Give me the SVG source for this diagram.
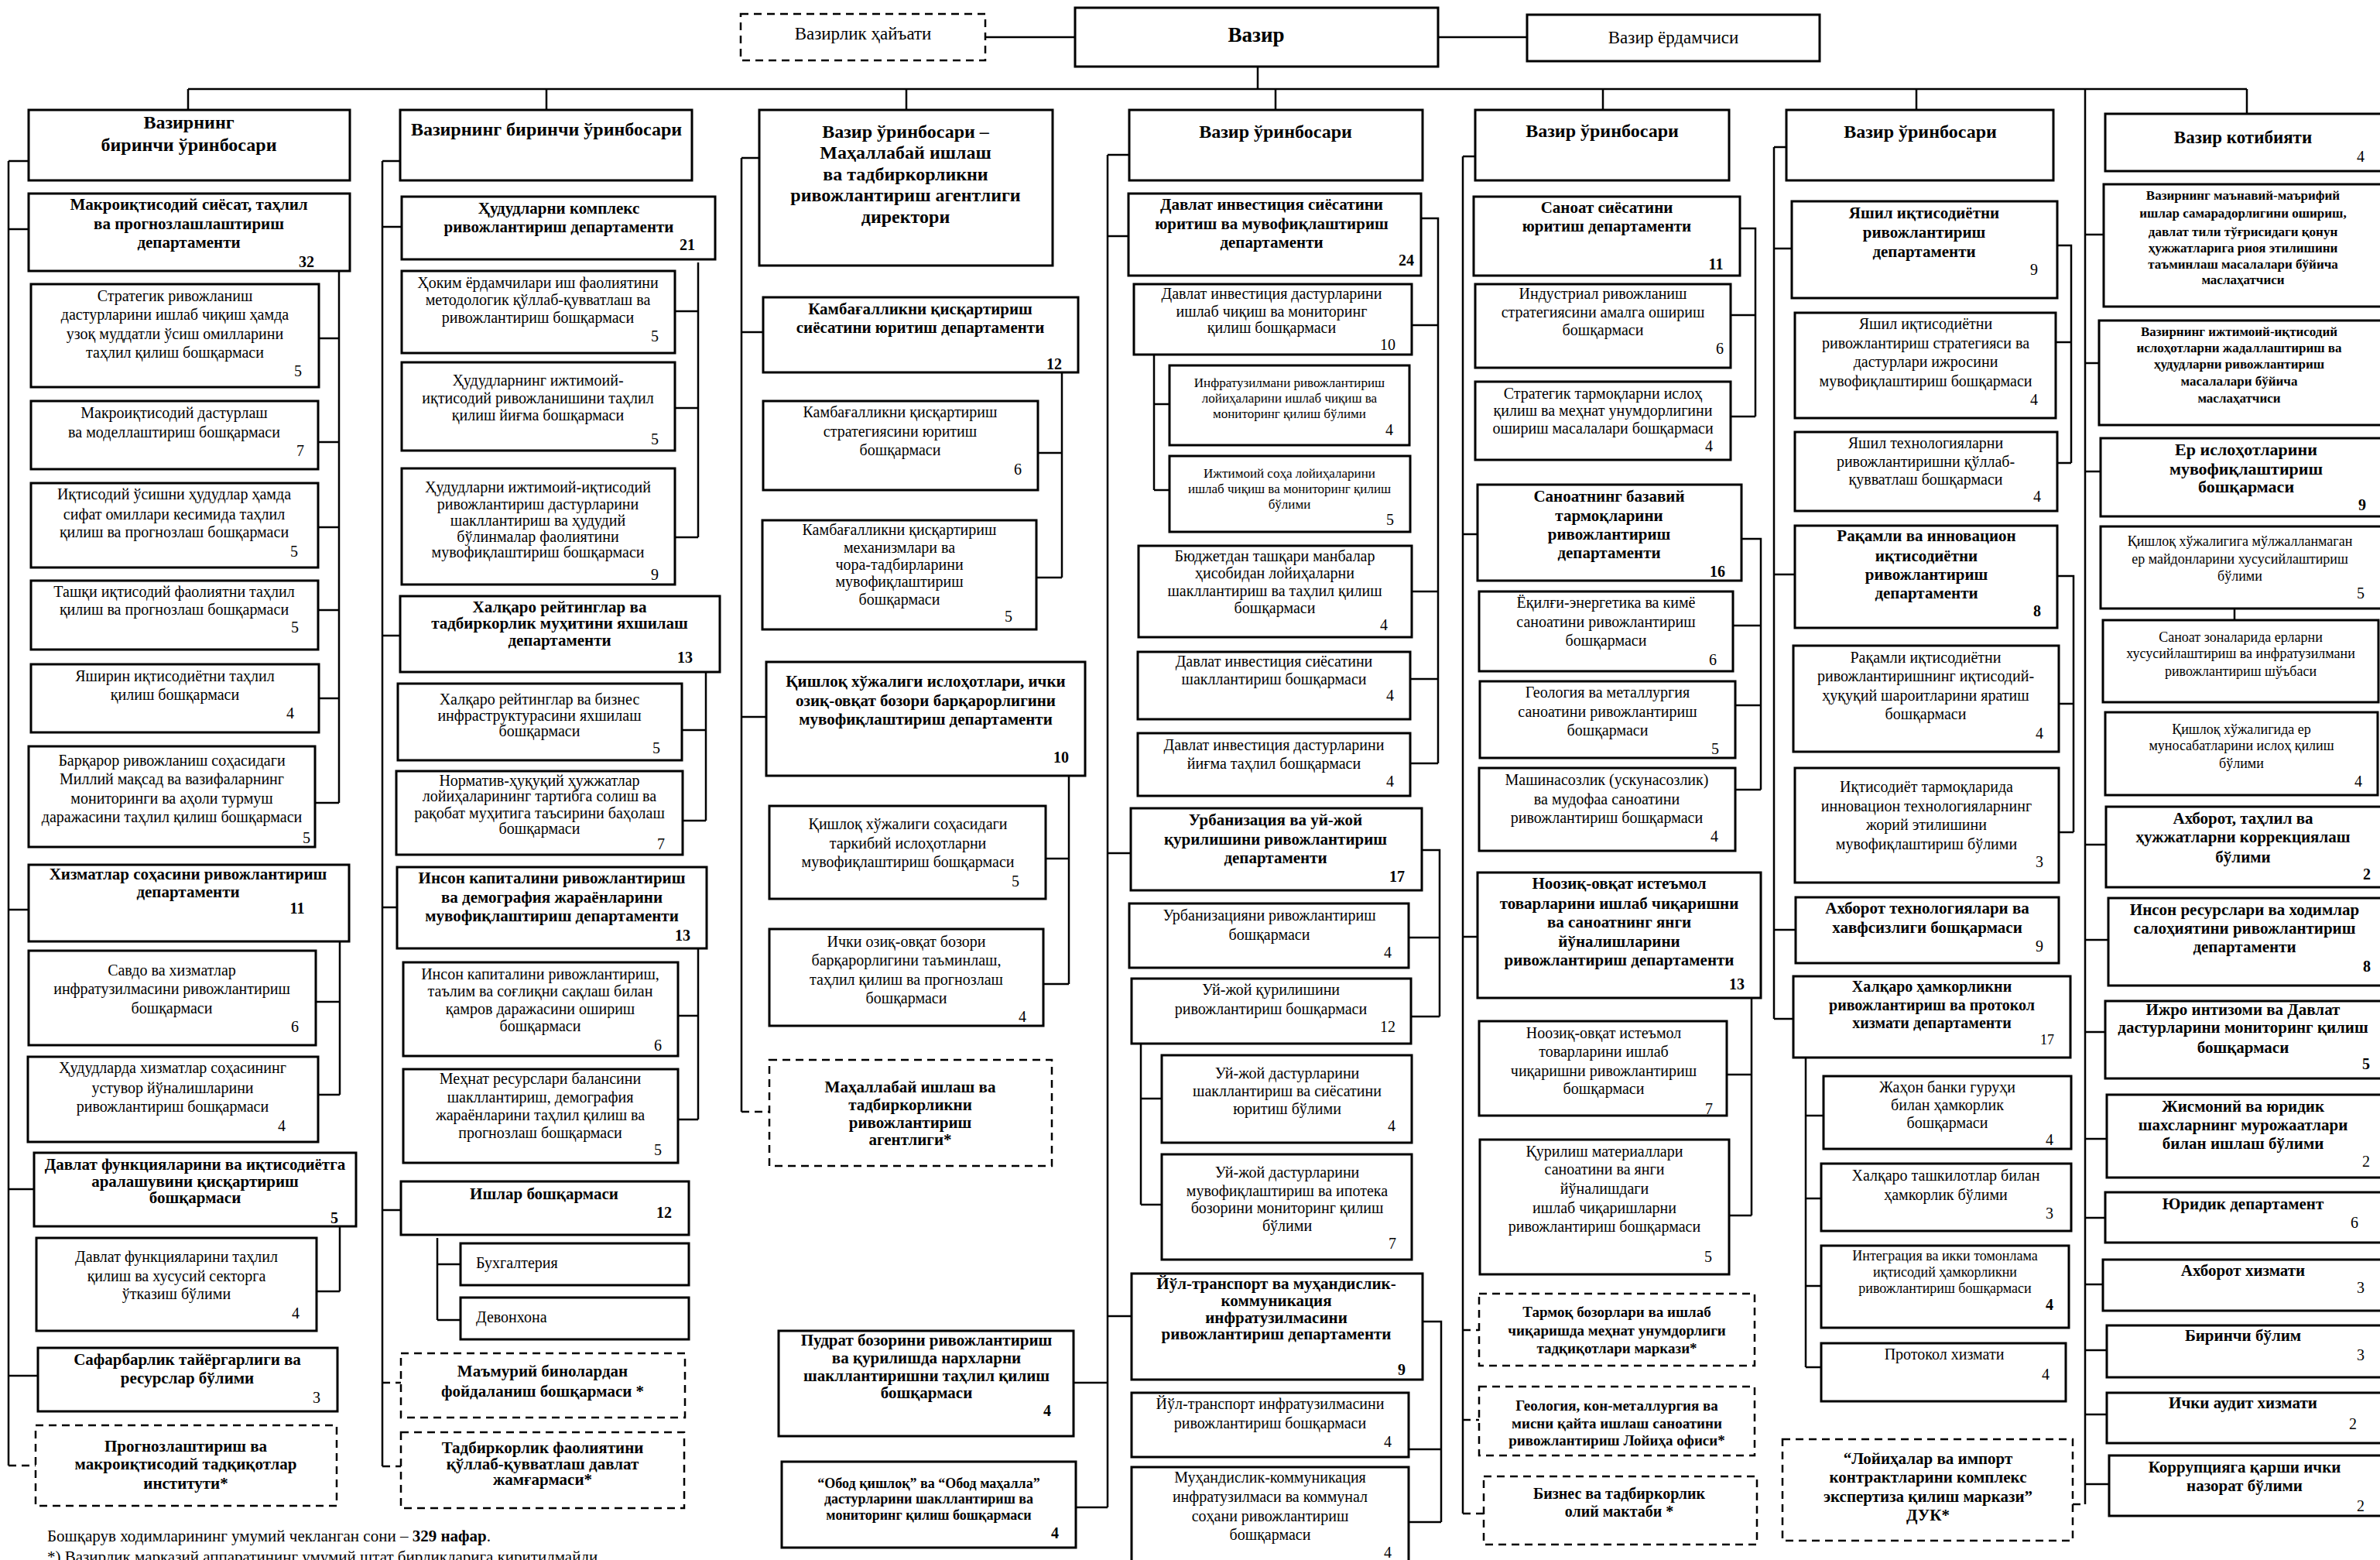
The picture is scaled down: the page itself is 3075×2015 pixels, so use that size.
<svg xmlns="http://www.w3.org/2000/svg" width="3075" height="2015" viewBox="0 0 3075 2015">
<style>
.bx{fill:#fff;stroke:#000;stroke-width:3}
.dx{fill:#fff;stroke:#000;stroke-width:2.5;stroke-dasharray:10 7}
.c{fill:none;stroke:#000;stroke-width:2.5}
.cd{fill:none;stroke:#000;stroke-width:2.5;stroke-dasharray:10 7}
text{font-family:"Liberation Serif","Times New Roman","DejaVu Serif",serif;fill:#000}
.r{font-size:20px;text-anchor:middle}
.b{font-size:21px;font-weight:bold;text-anchor:middle}
.h{font-size:24px;font-weight:bold;text-anchor:middle}
.s{font-size:17px;text-anchor:middle}
.sb{font-size:18px;font-weight:bold;text-anchor:middle}
.n{font-size:20px;text-anchor:middle}
.nb{font-size:20px;font-weight:bold;text-anchor:middle}
.l{font-size:20px;text-anchor:start}
</style>
<rect width="3075" height="2015" fill="#fff"/>
<g id="connectors">
<path class="c" d="M1273 48H1389M1858 48H1973M1625 86V115M243 115H2903M243 115V142M706 115V142M1171 115V142M1648 115V142M2071 115V142M2476 115V192M2903 115V147"/>
<path class="c" d="M11 208V1893M11 208H37M11 296H37M11 1175H37M11 1536H44M11 1777H49"/>
<path class="cd" d="M11 1893H46"/>
<path class="c" d="M438 350V1037M412 437H438M411 571H438M411 681H438M411 788H438M412 902H438M407 1037H438"/>
<path class="c" d="M439 1216V1414M408 1294H439M411 1414H439M439 1584V1668M409 1668H439"/>
<path class="c" d="M494 208V1894M494 208H517M494 293H519M494 821H517M494 1172H513M494 1563H518"/>
<path class="cd" d="M494 1786H518M494 1894H518"/>
<path class="c" d="M902 339V694M872 402H902M872 527H902M872 694H902"/>
<path class="c" d="M912 868V1060M881 943H912M882 1060H912"/>
<path class="c" d="M902 1225V1446M876 1312H902M876 1446H902"/>
<path class="c" d="M565 1599V1705M565 1633H595M565 1705H595"/>
<path class="c" d="M958 204V1436M958 204H981M958 429H986M958 926H990"/>
<path class="cd" d="M958 1436H994"/>
<path class="c" d="M1372 481V746M1341 585H1372M1339 746H1372M1381 1002V1271M1351 1109H1381M1348 1271H1381"/>
<path class="c" d="M1431 200V1947M1431 200H1459M1431 305H1458M1431 1102H1461M1431 1700H1462M1387 1786H1431M1390 1947H1431"/>
<path class="c" d="M1836 282H1858V986M1824 420H1858M1824 764H1858M1822 877H1858M1822 986H1858"/>
<path class="c" d="M1491 458V633M1491 522H1511M1491 633H1511"/>
<path class="c" d="M1837 1098H1860V1313M1820 1211H1860M1823 1313H1860"/>
<path class="c" d="M1474 1348V1556M1474 1419H1501M1474 1556H1501"/>
<path class="c" d="M1838 1707H1862V1966M1820 1872H1862M1820 1966H1862"/>
<path class="c" d="M1890 202V1955M1890 202H1906M1890 690H1909M1890 1210H1909"/>
<path class="cd" d="M1890 1718H1911M1890 1834H1911M1890 1955H1917"/>
<path class="c" d="M2248 295H2268V538M2236 407H2268M2236 538H2268"/>
<path class="c" d="M2250 696H2275V1020M2239 808H2275M2242 911H2275M2242 1020H2275"/>
<path class="c" d="M2263 1289V1570M2231 1388H2263M2234 1570H2263M2252 1235H2267"/>
<path class="c" d="M2292 190V1316M2292 190H2308M2292 321H2315M2292 742H2319M2292 1201H2320M2292 1316H2317"/>
<path class="c" d="M2653 317H2676V598M2656 442H2676M2658 598H2676"/>
<path class="c" d="M2658 744H2679V1075M2660 909H2679M2660 1075H2679"/>
<path class="c" d="M2333 1366V1766M2333 1441H2356M2333 1548H2353M2333 1661H2353M2333 1766H2353"/>
<path class="cd" d="M2678 1943H2694"/>
<path class="c" d="M2694 115V1943M2694 303H2718M2694 469H2712M2694 609H2714M2694 1091H2721M2694 1214H2724M2694 1333H2720M2694 1471H2722M2694 1573H2720M2694 1659H2717M2694 1744H2722M2694 1827H2722M2694 1917H2725M2887 786V801"/>
</g>

<g id="hayat"><rect class="dx" x="957" y="18" width="316" height="60"/><text class="r" style="font-size:23px" x="1115" y="51">Вазирлик ҳайъати</text></g>
<g id="vazir"><rect class="bx" x="1389" y="10" width="469" height="76"/><text class="h" style="font-size:27px" x="1623" y="54">Вазир</text></g>
<g id="yordamchi"><rect class="bx" x="1973" y="19" width="378" height="60"/><text class="r" style="font-size:23px" x="2162" y="56">Вазир ёрдамчиси</text></g>

<!-- Column 1 -->
<g id="c1-head"><rect class="bx" x="37" y="142" width="415" height="91"/><text class="h"><tspan x="244" y="166">Вазирнинг</tspan><tspan x="244" y="195">биринчи ўринбосари</tspan></text></g>
<g id="c1-d1"><rect class="bx" x="37" y="250" width="415" height="100"/><text class="b"><tspan x="244" y="271">Макроиқтисодий сиёсат, таҳлил</tspan><tspan x="244" y="296">ва прогнозлашлаштириш</tspan><tspan x="244" y="320">департаменти</tspan></text><text class="nb" x="396" y="345">32</text></g>
<g id="c1-s1"><rect class="bx" x="40" y="367" width="372" height="133"/><text class="r"><tspan x="226" y="389">Стратегик ривожланиш</tspan><tspan x="226" y="413">дастурларини ишлаб чиқиш ҳамда</tspan><tspan x="226" y="438">узоқ муддатли ўсиш омилларини</tspan><tspan x="226" y="462">таҳлил қилиш бошқармаси</tspan></text><text class="n" x="385" y="486">5</text></g>
<g id="c1-s2"><rect class="bx" x="40" y="518" width="371" height="88"/><text class="r"><tspan x="225" y="540">Макроиқтисодий дастурлаш</tspan><tspan x="225" y="565">ва моделлаштириш бошқармаси</tspan></text><text class="n" x="388" y="589">7</text></g>
<g id="c1-s3"><rect class="bx" x="40" y="624" width="371" height="109"/><text class="r"><tspan x="225" y="645">Иқтисодий ўсишни ҳудудлар ҳамда</tspan><tspan x="225" y="671">сифат омиллари кесимида таҳлил</tspan><tspan x="225" y="694">қилиш ва прогнозлаш бошқармаси</tspan></text><text class="n" x="380" y="719">5</text></g>
<g id="c1-s4"><rect class="bx" x="40" y="750" width="371" height="89"/><text class="r"><tspan x="225" y="771">Ташқи иқтисодий фаолиятни таҳлил</tspan><tspan x="225" y="794">қилиш ва прогнозлаш бошқармаси</tspan></text><text class="n" x="381" y="817">5</text></g>
<g id="c1-s5"><rect class="bx" x="40" y="858" width="372" height="88"/><text class="r"><tspan x="226" y="880">Яширин иқтисодиётни таҳлил</tspan><tspan x="226" y="904">қилиш бошқармаси</tspan></text><text class="n" x="375" y="928">4</text></g>
<g id="c1-s6"><rect class="bx" x="37" y="964" width="370" height="130"/><text class="r"><tspan x="222" y="989">Барқарор ривожланиш соҳасидаги</tspan><tspan x="222" y="1013">Миллий мақсад ва вазифаларнинг</tspan><tspan x="222" y="1038">мониторинги ва аҳоли турмуш</tspan><tspan x="222" y="1062">даражасини таҳлил қилиш бошқармаси</tspan></text><text class="n" x="396" y="1089">5</text></g>
<g id="c1-d2"><rect class="bx" x="37" y="1117" width="414" height="99"/><text class="b"><tspan x="243" y="1136">Хизматлар соҳасини ривожлантириш</tspan><tspan x="243" y="1159">департаменти</tspan></text><text class="nb" x="384" y="1180">11</text></g>
<g id="c1-s7"><rect class="bx" x="37" y="1228" width="371" height="122"/><text class="r"><tspan x="222" y="1260">Савдо ва хизматлар</tspan><tspan x="222" y="1284">инфратузилмасини ривожлантириш</tspan><tspan x="222" y="1309">бошқармаси</tspan></text><text class="n" x="381" y="1333">6</text></g>
<g id="c1-s8"><rect class="bx" x="36" y="1365" width="375" height="110"/><text class="r"><tspan x="223" y="1386">Ҳудудларда хизматлар соҳасининг</tspan><tspan x="223" y="1412">устувор йўналишларини</tspan><tspan x="223" y="1436">ривожлантириш бошқармаси</tspan></text><text class="n" x="364" y="1461">4</text></g>
<g id="c1-d3"><rect class="bx" x="44" y="1489" width="416" height="95"/><text class="b"><tspan x="252" y="1511">Давлат функцияларини ва иқтисодиётга</tspan><tspan x="252" y="1533">аралашувини қисқартириш</tspan><tspan x="252" y="1554">бошқармаси</tspan></text><text class="nb" x="432" y="1580">5</text></g>
<g id="c1-s9"><rect class="bx" x="47" y="1599" width="362" height="120"/><text class="r"><tspan x="228" y="1630">Давлат функцияларини таҳлил</tspan><tspan x="228" y="1655">қилиш ва хусусий секторга</tspan><tspan x="228" y="1678">ўтказиш бўлими</tspan></text><text class="n" x="382" y="1703">4</text></g>
<g id="c1-d4"><rect class="bx" x="49" y="1741" width="387" height="82"/><text class="b"><tspan x="242" y="1763">Сафарбарлик тайёргарлиги ва</tspan><tspan x="242" y="1787">ресурслар бўлими</tspan></text><text class="n" x="409" y="1812">3</text></g>
<g id="c1-x1"><rect class="dx" x="46" y="1841" width="389" height="104"/><text class="b"><tspan x="240" y="1875">Прогнозлаштириш ва</tspan><tspan x="240" y="1898">макроиқтисодий тадқиқотлар</tspan><tspan x="240" y="1923">институти*</tspan></text></g>

<!-- Column 2 -->
<g id="c2-head"><rect class="bx" x="517" y="142" width="377" height="91"/><text class="h" x="706" y="175">Вазирнинг биринчи ўринбосари</text></g>
<g id="c2-d1"><rect class="bx" x="519" y="254" width="405" height="81"/><text class="b"><tspan x="722" y="276">Ҳудудларни комплекс</tspan><tspan x="722" y="300">ривожлантириш департаменти</tspan></text><text class="nb" x="888" y="323">21</text></g>
<g id="c2-s1"><rect class="bx" x="519" y="350" width="353" height="106"/><text class="r"><tspan x="695" y="372">Ҳоким ёрдамчилари иш фаолиятини</tspan><tspan x="695" y="394">методологик қўллаб-қувватлаш ва</tspan><tspan x="695" y="417">ривожлантириш  бошқармаси</tspan></text><text class="n" x="846" y="441">5</text></g>
<g id="c2-s2"><rect class="bx" x="519" y="468" width="353" height="114"/><text class="r"><tspan x="695" y="498">Ҳудудларнинг ижтимоий-</tspan><tspan x="695" y="521">иқтисодий ривожланишини таҳлил</tspan><tspan x="695" y="543">қилиш йиғма бошқармаси</tspan></text><text class="n" x="846" y="574">5</text></g>
<g id="c2-s3"><rect class="bx" x="519" y="605" width="353" height="150"/><text class="r"><tspan x="695" y="636">Ҳудудларни ижтимоий-иқтисодий</tspan><tspan x="695" y="658">ривожлантириш дастурларини</tspan><tspan x="695" y="679">шакллантириш ва ҳудудий</tspan><tspan x="695" y="700">бўлинмалар фаолиятини</tspan><tspan x="695" y="720">мувофиқлаштириш бошқармаси</tspan></text><text class="n" x="846" y="749">9</text></g>
<g id="c2-d2"><rect class="bx" x="517" y="770" width="413" height="98"/><text class="b"><tspan x="723" y="791">Халқаро рейтинглар ва</tspan><tspan x="723" y="812">тадбиркорлик муҳитини яхшилаш</tspan><tspan x="723" y="834">департаменти</tspan></text><text class="nb" x="885" y="856">13</text></g>
<g id="c2-s4"><rect class="bx" x="514" y="883" width="367" height="99"/><text class="r"><tspan x="697" y="910">Халқаро рейтинглар ва бизнес</tspan><tspan x="697" y="931">инфраструктурасини яхшилаш</tspan><tspan x="697" y="951">бошқармаси</tspan></text><text class="n" x="848" y="973">5</text></g>
<g id="c2-s5"><rect class="bx" x="512" y="996" width="370" height="108"/><text class="r"><tspan x="697" y="1015">Норматив-ҳуқуқий ҳужжатлар</tspan><tspan x="697" y="1035">лойиҳаларининг тартибга солиш ва</tspan><tspan x="697" y="1057">рақобат муҳитига таъсирини баҳолаш</tspan><tspan x="697" y="1077">бошқармаси</tspan></text><text class="n" x="854" y="1097">7</text></g>
<g id="c2-d3"><rect class="bx" x="513" y="1120" width="400" height="105"/><text class="b"><tspan x="713" y="1141">Инсон капиталини ривожлантириш</tspan><tspan x="713" y="1166">ва демография жараёнларини</tspan><tspan x="713" y="1190">мувофиқлаштириш  департаменти</tspan></text><text class="nb" x="882" y="1215">13</text></g>
<g id="c2-s6"><rect class="bx" x="521" y="1243" width="355" height="121"/><text class="r"><tspan x="698" y="1265">Инсон капиталини ривожлантириш,</tspan><tspan x="698" y="1287">таълим ва соғлиқни сақлаш билан</tspan><tspan x="698" y="1310">қамров даражасини ошириш</tspan><tspan x="698" y="1332">бошқармаси</tspan></text><text class="n" x="850" y="1357">6</text></g>
<g id="c2-s7"><rect class="bx" x="521" y="1381" width="355" height="121"/><text class="r"><tspan x="698" y="1400">Меҳнат ресурслари балансини</tspan><tspan x="698" y="1424">шакллантириш, демография</tspan><tspan x="698" y="1447">жараёнларини таҳлил қилиш ва</tspan><tspan x="698" y="1470">прогнозлаш бошқармаси</tspan></text><text class="n" x="850" y="1492">5</text></g>
<g id="c2-d4"><rect class="bx" x="518" y="1526" width="372" height="69"/><text class="b" x="703" y="1549">Ишлар бошқармаси</text><text class="nb" x="858" y="1573">12</text></g>
<g id="c2-s8"><rect class="bx" x="595" y="1606" width="295" height="54"/><text class="l" x="615" y="1638">Бухгалтерия</text></g>
<g id="c2-s9"><rect class="bx" x="595" y="1676" width="295" height="54"/><text class="l" x="615" y="1708">Девонхона</text></g>
<g id="c2-x1"><rect class="dx" x="518" y="1748" width="367" height="83"/><text class="b"><tspan x="701" y="1778">Маъмурий бинолардан</tspan><tspan x="701" y="1804">фойдаланиш бошқармаси *</tspan></text></g>
<g id="c2-x2"><rect class="dx" x="518" y="1850" width="366" height="98"/><text class="b"><tspan x="701" y="1877">Тадбиркорлик фаолиятини</tspan><tspan x="701" y="1898">қўллаб-қувватлаш давлат</tspan><tspan x="701" y="1918">жамғармаси*</tspan></text></g>

<!-- Column 3 -->
<g id="c3-head"><rect class="bx" x="981" y="142" width="379" height="201"/><text class="h"><tspan x="1170" y="178">Вазир ўринбосари –</tspan><tspan x="1170" y="205">Маҳаллабай ишлаш</tspan><tspan x="1170" y="233">ва тадбиркорликни</tspan><tspan x="1170" y="260">ривожлантириш агентлиги</tspan><tspan x="1170" y="288">директори</tspan></text></g>
<g id="c3-d1"><rect class="bx" x="986" y="384" width="407" height="97"/><text class="b"><tspan x="1189" y="406">Камбағалликни қисқартириш</tspan><tspan x="1189" y="430">сиёсатини юритиш департаменти</tspan></text><text class="nb" x="1362" y="477">12</text></g>
<g id="c3-s1"><rect class="bx" x="986" y="518" width="355" height="115"/><text class="r"><tspan x="1163" y="539">Камбағалликни қисқартириш</tspan><tspan x="1163" y="564">стратегиясини юритиш</tspan><tspan x="1163" y="588">бошқармаси</tspan></text><text class="n" x="1315" y="613">6</text></g>
<g id="c3-s2"><rect class="bx" x="985" y="672" width="354" height="141"/><text class="r"><tspan x="1162" y="691">Камбағалликни қисқартириш</tspan><tspan x="1162" y="714">механизмлари ва</tspan><tspan x="1162" y="736">чора-тадбирларини</tspan><tspan x="1162" y="758">мувофиқлаштириш</tspan><tspan x="1162" y="781">бошқармаси</tspan></text><text class="n" x="1303" y="803">5</text></g>
<g id="c3-d2"><rect class="bx" x="990" y="855" width="412" height="147"/><text class="b"><tspan x="1196" y="887">Қишлоқ хўжалиги ислоҳотлари, ички</tspan><tspan x="1196" y="912">озиқ-овқат бозори барқарорлигини</tspan><tspan x="1196" y="936">мувофиқлаштириш департаменти</tspan></text><text class="nb" x="1371" y="985">10</text></g>
<g id="c3-s3"><rect class="bx" x="994" y="1041" width="357" height="120"/><text class="r"><tspan x="1173" y="1071">Қишлоқ хўжалиги соҳасидаги</tspan><tspan x="1173" y="1096">таркибий ислоҳотларни</tspan><tspan x="1173" y="1120">мувофиқлаштириш бошқармаси</tspan></text><text class="n" x="1312" y="1145">5</text></g>
<g id="c3-s4"><rect class="bx" x="994" y="1200" width="354" height="125"/><text class="r"><tspan x="1171" y="1223">Ички озиқ-овқат бозори</tspan><tspan x="1171" y="1247">барқарорлигини таъминлаш,</tspan><tspan x="1171" y="1272">таҳлил қилиш ва прогнозлаш</tspan><tspan x="1171" y="1296">бошқармаси</tspan></text><text class="n" x="1321" y="1320">4</text></g>
<g id="c3-x1"><rect class="dx" x="994" y="1369" width="365" height="137"/><text class="b"><tspan x="1176" y="1411">Маҳаллабай ишлаш ва</tspan><tspan x="1176" y="1434">тадбиркорликни</tspan><tspan x="1176" y="1457">ривожлантириш</tspan><tspan x="1176" y="1479">агентлиги*</tspan></text></g>
<g id="c3-d3"><rect class="bx" x="1006" y="1719" width="381" height="136"/><text class="b"><tspan x="1197" y="1738">Пудрат бозорини ривожлантириш</tspan><tspan x="1197" y="1761">ва қурилишда нархларни</tspan><tspan x="1197" y="1784">шакллантиришни таҳлил қилиш</tspan><tspan x="1197" y="1806">бошқармаси</tspan></text><text class="nb" x="1353" y="1829">4</text></g>
<g id="c3-d4"><rect class="bx" x="1010" y="1888" width="380" height="111"/><text class="sb"><tspan x="1200" y="1922">“Обод қишлоқ” ва “Обод маҳалла”</tspan><tspan x="1200" y="1942">дастурларини шакллантириш ва</tspan><tspan x="1200" y="1963">мониторинг қилиш бошқармаси</tspan></text><text class="nb" x="1363" y="1987">4</text></g>

<!-- Column 4 -->
<g id="c4-head"><rect class="bx" x="1459" y="142" width="379" height="91"/><text class="h" x="1648" y="178">Вазир ўринбосари</text></g>
<g id="c4-d1"><rect class="bx" x="1458" y="250" width="378" height="106"/><text class="b"><tspan x="1643" y="271">Давлат инвестиция сиёсатини</tspan><tspan x="1643" y="296">юритиш ва мувофиқлаштириш</tspan><tspan x="1643" y="320">департаменти</tspan></text><text class="nb" x="1817" y="343">24</text></g>
<g id="c4-s1"><rect class="bx" x="1465" y="367" width="359" height="91"/><text class="r"><tspan x="1643" y="386">Давлат инвестиция дастурларини</tspan><tspan x="1643" y="409">ишлаб чиқиш ва мониторинг</tspan><tspan x="1643" y="430">қилиш бошқармаси</tspan></text><text class="n" x="1793" y="452">10</text></g>
<g id="c4-s2"><rect class="bx" x="1511" y="472" width="310" height="103"/><text class="s"><tspan x="1666" y="500">Инфратузилмани ривожлантириш</tspan><tspan x="1666" y="520">лойиҳаларини ишлаб чиқиш ва</tspan><tspan x="1666" y="540">мониторинг қилиш бўлими</tspan></text><text class="n" x="1795" y="562">4</text></g>
<g id="c4-s3"><rect class="bx" x="1511" y="589" width="311" height="98"/><text class="s"><tspan x="1666" y="617">Ижтимоий соҳа лойиҳаларини</tspan><tspan x="1666" y="637">ишлаб чиқиш ва мониторинг қилиш</tspan><tspan x="1666" y="657">бўлими</tspan></text><text class="n" x="1796" y="678">5</text></g>
<g id="c4-s4"><rect class="bx" x="1471" y="705" width="353" height="118"/><text class="r"><tspan x="1647" y="725">Бюджетдан ташқари манбалар</tspan><tspan x="1647" y="747">ҳисобидан лойиҳаларни</tspan><tspan x="1647" y="770">шакллантириш ва таҳлил қилиш</tspan><tspan x="1647" y="792">бошқармаси</tspan></text><text class="n" x="1788" y="814">4</text></g>
<g id="c4-s5"><rect class="bx" x="1470" y="842" width="352" height="87"/><text class="r"><tspan x="1646" y="861">Давлат инвестиция сиёсатини</tspan><tspan x="1646" y="884">шакллантириш бошқармаси</tspan></text><text class="n" x="1796" y="905">4</text></g>
<g id="c4-s6"><rect class="bx" x="1470" y="947" width="352" height="81"/><text class="r"><tspan x="1646" y="969">Давлат инвестиция дастурларини</tspan><tspan x="1646" y="993">йиғма таҳлил бошқармаси</tspan></text><text class="n" x="1796" y="1016">4</text></g>
<g id="c4-d2"><rect class="bx" x="1461" y="1044" width="376" height="106"/><text class="b"><tspan x="1648" y="1066">Урбанизация ва уй-жой</tspan><tspan x="1648" y="1091">қурилишини ривожлантириш</tspan><tspan x="1648" y="1115">департаменти</tspan></text><text class="nb" x="1805" y="1139">17</text></g>
<g id="c4-s7"><rect class="bx" x="1459" y="1167" width="361" height="83"/><text class="r"><tspan x="1640" y="1189">Урбанизацияни ривожлантириш</tspan><tspan x="1640" y="1214">бошқармаси</tspan></text><text class="n" x="1793" y="1237">4</text></g>
<g id="c4-s8"><rect class="bx" x="1462" y="1264" width="361" height="84"/><text class="r"><tspan x="1642" y="1285">Уй-жой қурилишини</tspan><tspan x="1642" y="1310">ривожлантириш бошқармаси</tspan></text><text class="n" x="1793" y="1333">12</text></g>
<g id="c4-s9"><rect class="bx" x="1501" y="1363" width="323" height="113"/><text class="r"><tspan x="1663" y="1393">Уй-жой дастурларини</tspan><tspan x="1663" y="1416">шакллантириш ва сиёсатини</tspan><tspan x="1663" y="1439">юритиш бўлими</tspan></text><text class="n" x="1798" y="1461">4</text></g>
<g id="c4-s10"><rect class="bx" x="1501" y="1491" width="323" height="136"/><text class="r"><tspan x="1663" y="1521">Уй-жой дастурларини</tspan><tspan x="1663" y="1545">мувофиқлаштириш ва ипотека</tspan><tspan x="1663" y="1567">бозорини мониторинг қилиш</tspan><tspan x="1663" y="1590">бўлими</tspan></text><text class="n" x="1799" y="1613">7</text></g>
<g id="c4-d3"><rect class="bx" x="1462" y="1645" width="376" height="137"/><text class="b"><tspan x="1649" y="1665">Йўл-транспорт ва муҳандислик-</tspan><tspan x="1649" y="1687">коммуникация</tspan><tspan x="1649" y="1709">инфратузилмасини</tspan><tspan x="1649" y="1730">ривожлантириш департаменти</tspan></text><text class="nb" x="1811" y="1776">9</text></g>
<g id="c4-s11"><rect class="bx" x="1462" y="1799" width="358" height="83"/><text class="r"><tspan x="1641" y="1820">Йўл-транспорт инфратузилмасини</tspan><tspan x="1641" y="1845">ривожлантириш бошқармаси</tspan></text><text class="n" x="1793" y="1869">4</text></g>
<g id="c4-s12"><rect class="bx" x="1462" y="1895" width="358" height="140"/><text class="r"><tspan x="1641" y="1915">Муҳандислик-коммуникация</tspan><tspan x="1641" y="1940">инфратузилмаси ва коммунал</tspan><tspan x="1641" y="1965">соҳани ривожлантириш</tspan><tspan x="1641" y="1989">бошқармаси</tspan></text><text class="n" x="1793" y="2012">4</text></g>

<!-- Column 5 -->
<g id="c5-head"><rect class="bx" x="1906" y="142" width="328" height="91"/><text class="h" x="2070" y="177">Вазир ўринбосари</text></g>
<g id="c5-d1"><rect class="bx" x="1904" y="254" width="344" height="102"/><text class="b"><tspan x="2076" y="275">Саноат сиёсатини</tspan><tspan x="2076" y="299">юритиш департаменти</tspan></text><text class="nb" x="2217" y="348">11</text></g>
<g id="c5-s1"><rect class="bx" x="1906" y="367" width="330" height="108"/><text class="r"><tspan x="2071" y="386">Индустриал ривожланиш</tspan><tspan x="2071" y="410">стратегиясини амалга ошириш</tspan><tspan x="2071" y="433">бошқармаси</tspan></text><text class="n" x="2222" y="457">6</text></g>
<g id="c5-s2"><rect class="bx" x="1906" y="493" width="330" height="101"/><text class="r"><tspan x="2071" y="515">Стратегик тармоқларни ислоҳ</tspan><tspan x="2071" y="537">қилиш ва меҳнат унумдорлигини</tspan><tspan x="2071" y="560">ошириш масалалари бошқармаси</tspan></text><text class="n" x="2208" y="583">4</text></g>
<g id="c5-d2"><rect class="bx" x="1909" y="626" width="341" height="124"/><text class="b"><tspan x="2079" y="648">Саноатнинг базавий</tspan><tspan x="2079" y="673">тармоқларини</tspan><tspan x="2079" y="697">ривожлантириш</tspan><tspan x="2079" y="721">департаменти</tspan></text><text class="nb" x="2219" y="745">16</text></g>
<g id="c5-s3"><rect class="bx" x="1911" y="764" width="328" height="103"/><text class="r"><tspan x="2075" y="785">Ёқилғи-энергетика ва кимё</tspan><tspan x="2075" y="810">саноатини ривожлантириш</tspan><tspan x="2075" y="834">бошқармаси</tspan></text><text class="n" x="2213" y="859">6</text></g>
<g id="c5-s4"><rect class="bx" x="1912" y="880" width="330" height="99"/><text class="r"><tspan x="2077" y="901">Геология ва металлургия</tspan><tspan x="2077" y="926">саноатини ривожлантириш</tspan><tspan x="2077" y="950">бошқармаси</tspan></text><text class="n" x="2216" y="974">5</text></g>
<g id="c5-s5"><rect class="bx" x="1911" y="992" width="331" height="107"/><text class="r"><tspan x="2076" y="1014">Машинасозлик (ускунасозлик)</tspan><tspan x="2076" y="1039">ва мудофаа саноатини</tspan><tspan x="2076" y="1063">ривожлантириш бошқармаси</tspan></text><text class="n" x="2215" y="1087">4</text></g>
<g id="c5-d3"><rect class="bx" x="1909" y="1127" width="366" height="162"/><text class="b"><tspan x="2092" y="1148">Ноозиқ-овқат истеъмол</tspan><tspan x="2092" y="1174">товарларини ишлаб чиқаришни</tspan><tspan x="2092" y="1198">ва саноатнинг янги</tspan><tspan x="2092" y="1223">йўналишларини</tspan><tspan x="2092" y="1247">ривожлантириш департаменти</tspan></text><text class="nb" x="2244" y="1278">13</text></g>
<g id="c5-s6"><rect class="bx" x="1911" y="1319" width="320" height="122"/><text class="r"><tspan x="2072" y="1341">Ноозиқ-овқат истеъмол</tspan><tspan x="2072" y="1365">товарларини ишлаб</tspan><tspan x="2072" y="1390">чиқаришни ривожлантириш</tspan><tspan x="2072" y="1413">бошқармаси</tspan></text><text class="n" x="2208" y="1439">7</text></g>
<g id="c5-s7"><rect class="bx" x="1912" y="1472" width="322" height="174"/><text class="r"><tspan x="2073" y="1494">Қурилиш материаллари</tspan><tspan x="2073" y="1517">саноатини ва янги</tspan><tspan x="2073" y="1542">йўналишдаги</tspan><tspan x="2073" y="1567">ишлаб чиқаришларни</tspan><tspan x="2073" y="1591">ривожлантириш бошқармаси</tspan></text><text class="n" x="2207" y="1630">5</text></g>
<g id="c5-x1"><rect class="dx" x="1911" y="1671" width="356" height="93"/><text class="sb" style="font-size:19px"><tspan x="2089" y="1701">Тармоқ бозорлари ва ишлаб</tspan><tspan x="2089" y="1725">чиқаришда меҳнат унумдорлиги</tspan><tspan x="2089" y="1748">тадқиқотлари маркази*</tspan></text></g>
<g id="c5-x2"><rect class="dx" x="1911" y="1791" width="356" height="89"/><text class="sb" style="font-size:19px"><tspan x="2089" y="1822">Геология, кон-металлургия ва</tspan><tspan x="2089" y="1845">мисни қайта ишлаш саноатини</tspan><tspan x="2089" y="1867">ривожлантириш Лойиҳа офиси*</tspan></text></g>
<g id="c5-x3"><rect class="dx" x="1917" y="1907" width="353" height="88"/><text class="b" style="font-size:20px"><tspan x="2092" y="1936">Бизнес ва тадбиркорлик</tspan><tspan x="2092" y="1959">олий мактаби *</tspan></text></g>

<!-- Column 6 -->
<g id="c6-head"><rect class="bx" x="2308" y="142" width="345" height="91"/><text class="h" x="2481" y="178">Вазир ўринбосари</text></g>
<g id="c6-d1"><rect class="bx" x="2315" y="260" width="343" height="125"/><text class="b"><tspan x="2486" y="282">Яшил иқтисодиётни</tspan><tspan x="2486" y="307">ривожлантириш</tspan><tspan x="2486" y="332">департаменти</tspan></text><text class="n" x="2628" y="355">9</text></g>
<g id="c6-s1"><rect class="bx" x="2319" y="404" width="337" height="136"/><text class="r"><tspan x="2488" y="425">Яшил иқтисодиётни</tspan><tspan x="2488" y="450">ривожлантириш стратегияси ва</tspan><tspan x="2488" y="474">дастурлари ижросини</tspan><tspan x="2488" y="499">мувофиқлаштириш бошқармаси</tspan></text><text class="n" x="2628" y="523">4</text></g>
<g id="c6-s2"><rect class="bx" x="2319" y="558" width="339" height="102"/><text class="r"><tspan x="2488" y="579">Яшил технологияларни</tspan><tspan x="2488" y="603">ривожлантиришни қўллаб-</tspan><tspan x="2488" y="626">қувватлаш бошқармаси</tspan></text><text class="n" x="2632" y="648">4</text></g>
<g id="c6-d2"><rect class="bx" x="2319" y="679" width="339" height="132"/><text class="b"><tspan x="2489" y="699">Рақамли ва инновацион</tspan><tspan x="2489" y="725">иқтисодиётни</tspan><tspan x="2489" y="749">ривожлантириш</tspan><tspan x="2489" y="773">департаменти</tspan></text><text class="nb" x="2632" y="796">8</text></g>
<g id="c6-s3"><rect class="bx" x="2317" y="834" width="343" height="137"/><text class="r"><tspan x="2488" y="856">Рақамли иқтисодиётни</tspan><tspan x="2488" y="880">ривожлантиришнинг иқтисодий-</tspan><tspan x="2488" y="905">ҳуқуқий шароитларини яратиш</tspan><tspan x="2488" y="929">бошқармаси</tspan></text><text class="n" x="2635" y="954">4</text></g>
<g id="c6-s4"><rect class="bx" x="2319" y="992" width="341" height="148"/><text class="r"><tspan x="2489" y="1023">Иқтисодиёт тармоқларида</tspan><tspan x="2489" y="1048">инновацион технологияларнинг</tspan><tspan x="2489" y="1072">жорий этилишини</tspan><tspan x="2489" y="1097">мувофиқлаштириш бўлими</tspan></text><text class="n" x="2635" y="1120">3</text></g>
<g id="c6-d3"><rect class="bx" x="2320" y="1159" width="340" height="85"/><text class="b"><tspan x="2490" y="1180">Ахборот технологиялари ва</tspan><tspan x="2490" y="1205">хавфсизлиги бошқармаси</tspan></text><text class="n" x="2635" y="1229">9</text></g>
<g id="c6-d4"><rect class="bx" x="2317" y="1261" width="358" height="105"/><text class="b" style="font-size:20px"><tspan x="2496" y="1281">Халқаро ҳамкорликни</tspan><tspan x="2496" y="1305">ривожлантириш ва протокол</tspan><tspan x="2496" y="1328">хизмати департаменти</tspan></text><text class="n" style="font-size:18px" x="2645" y="1349">17</text></g>
<g id="c6-s5"><rect class="bx" x="2356" y="1390" width="320" height="94"/><text class="r"><tspan x="2516" y="1411">Жаҳон банки гуруҳи</tspan><tspan x="2516" y="1434">билан ҳамкорлик</tspan><tspan x="2516" y="1457">бошқармаси</tspan></text><text class="n" x="2648" y="1479">4</text></g>
<g id="c6-s6"><rect class="bx" x="2353" y="1503" width="323" height="87"/><text class="r"><tspan x="2514" y="1525">Халқаро ташкилотлар билан</tspan><tspan x="2514" y="1550">ҳамкорлик бўлими</tspan></text><text class="n" x="2648" y="1574">3</text></g>
<g id="c6-s7"><rect class="bx" x="2353" y="1609" width="320" height="106"/><text class="s" style="font-size:18px"><tspan x="2513" y="1628">Интеграция ва икки томонлама</tspan><tspan x="2513" y="1649">иқтисодий ҳамкорликни</tspan><tspan x="2513" y="1670">ривожлантириш бошқармаси</tspan></text><text class="nb" x="2648" y="1692">4</text></g>
<g id="c6-s8"><rect class="bx" x="2353" y="1735" width="316" height="75"/><text class="r" x="2512" y="1756">Протокол хизмати</text><text class="n" x="2643" y="1782">4</text></g>
<g id="c6-x1"><rect class="dx" x="2303" y="1859" width="375" height="131"/><text class="b"><tspan x="2491" y="1891">“Лойиҳалар ва импорт</tspan><tspan x="2491" y="1915">контрактларини комплекс</tspan><tspan x="2491" y="1940">экспертиза қилиш маркази”</tspan><tspan x="2491" y="1964">ДУК*</tspan></text></g>

<!-- Column 7 -->
<g id="c7-head"><rect class="bx" x="2720" y="147" width="362" height="74"/><text class="h" style="font-size:23px" x="2898" y="185">Вазир котибияти</text><text class="n" x="3050" y="209">4</text></g>
<g id="c7-a1"><rect class="bx" x="2718" y="238" width="364" height="158"/><text class="sb" style="font-size:17px"><tspan x="2898" y="258">Вазирнинг маънавий-маърифий</tspan><tspan x="2898" y="281">ишлар самарадорлигини ошириш,</tspan><tspan x="2898" y="305">давлат тили тўғрисидаги қонун</tspan><tspan x="2898" y="326">ҳужжатларига риоя этилишини</tspan><tspan x="2898" y="347">таъминлаш масалалари бўйича</tspan><tspan x="2898" y="367">маслаҳатчиси</tspan></text></g>
<g id="c7-a2"><rect class="bx" x="2712" y="414" width="370" height="135"/><text class="sb" style="font-size:17px"><tspan x="2893" y="434">Вазирнинг ижтимоий-иқтисодий</tspan><tspan x="2893" y="455">ислоҳотларни жадаллаштириш ва</tspan><tspan x="2893" y="476">ҳудудларни ривожлантириш</tspan><tspan x="2893" y="498">масалалари бўйича</tspan><tspan x="2893" y="520">маслаҳатчиси</tspan></text></g>
<g id="c7-d1"><rect class="bx" x="2714" y="566" width="368" height="101"/><text class="b" style="font-size:22px"><tspan x="2902" y="588">Ер ислоҳотларини</tspan><tspan x="2902" y="613">мувофиқлаштириш</tspan><tspan x="2902" y="636">бошқармаси</tspan></text><text class="nb" x="3052" y="659">9</text></g>
<g id="c7-s1"><rect class="bx" x="2714" y="680" width="368" height="106"/><text class="s" style="font-size:18px"><tspan x="2894" y="705">Қишлоқ хўжалигига мўлжалланмаган</tspan><tspan x="2894" y="728">ер майдонларини хусусийлаштириш</tspan><tspan x="2894" y="750">бўлими</tspan></text><text class="n" x="3050" y="773">5</text></g>
<g id="c7-s2"><rect class="bx" x="2717" y="801" width="356" height="106"/><text class="s" style="font-size:18px"><tspan x="2895" y="829">Саноат зоналарида ерларни</tspan><tspan x="2895" y="850">хусусийлаштириш ва инфратузилмани</tspan><tspan x="2895" y="873">ривожлантириш шўъбаси</tspan></text></g>
<g id="c7-s3"><rect class="bx" x="2720" y="920" width="352" height="107"/><text class="s" style="font-size:18px"><tspan x="2896" y="948">Қишлоқ хўжалигида ер</tspan><tspan x="2896" y="969">муносабатларини ислоҳ қилиш</tspan><tspan x="2896" y="992">бўлими</tspan></text><text class="n" x="3047" y="1016">4</text></g>
<g id="c7-d2"><rect class="bx" x="2721" y="1042" width="361" height="104"/><text class="b"><tspan x="2898" y="1064">Ахборот, таҳлил ва</tspan><tspan x="2898" y="1088">ҳужжатларни коррекциялаш</tspan><tspan x="2898" y="1114">бўлими</tspan></text><text class="nb" x="3058" y="1136">2</text></g>
<g id="c7-d3"><rect class="bx" x="2724" y="1160" width="358" height="113"/><text class="b"><tspan x="2900" y="1182">Инсон ресурслари ва ходимлар</tspan><tspan x="2900" y="1206">салоҳиятини ривожлантириш</tspan><tspan x="2900" y="1230">департаменти</tspan></text><text class="nb" x="3058" y="1255">8</text></g>
<g id="c7-d4"><rect class="bx" x="2720" y="1293" width="362" height="100"/><text class="b"><tspan x="2898" y="1311">Ижро интизоми ва Давлат</tspan><tspan x="2898" y="1334">дастурларини мониторинг қилиш</tspan><tspan x="2898" y="1360">бошқармаси</tspan></text><text class="nb" x="3057" y="1381">5</text></g>
<g id="c7-d5"><rect class="bx" x="2722" y="1414" width="360" height="107"/><text class="b"><tspan x="2898" y="1436">Жисмоний ва юридик</tspan><tspan x="2898" y="1460">шахсларнинг мурожаатлари</tspan><tspan x="2898" y="1484">билан ишлаш бўлими</tspan></text><text class="n" x="3057" y="1507">2</text></g>
<g id="c7-d6"><rect class="bx" x="2720" y="1540" width="362" height="65"/><text class="b" x="2898" y="1562">Юридик департамент</text><text class="n" x="3042" y="1586">6</text></g>
<g id="c7-d7"><rect class="bx" x="2717" y="1627" width="365" height="66"/><text class="b" x="2898" y="1648">Ахборот хизмати</text><text class="n" x="3050" y="1670">3</text></g>
<g id="c7-d8"><rect class="bx" x="2722" y="1712" width="360" height="67"/><text class="b" x="2898" y="1732">Биринчи бўлим</text><text class="n" x="3050" y="1757">3</text></g>
<g id="c7-d9"><rect class="bx" x="2722" y="1799" width="360" height="65"/><text class="b" x="2898" y="1819">Ички аудит хизмати</text><text class="n" x="3040" y="1846">2</text></g>
<g id="c7-d10"><rect class="bx" x="2725" y="1880" width="357" height="78"/><text class="b"><tspan x="2900" y="1902">Коррупцияга қарши ички</tspan><tspan x="2900" y="1926">назорат бўлими</tspan></text><text class="n" x="3050" y="1952">2</text></g>

<g id="footer">
<text class="l" style="font-size:21px" x="61" y="1991">Бошқарув ходимларининг умумий чекланган сони – <tspan font-weight="bold">329 нафар</tspan>.</text>
<text class="l" style="font-size:21px" x="61" y="2018">*) Вазирлик марказий аппаратининг умумий штат бирликларига киритилмайди.</text>
</g>
</svg>
